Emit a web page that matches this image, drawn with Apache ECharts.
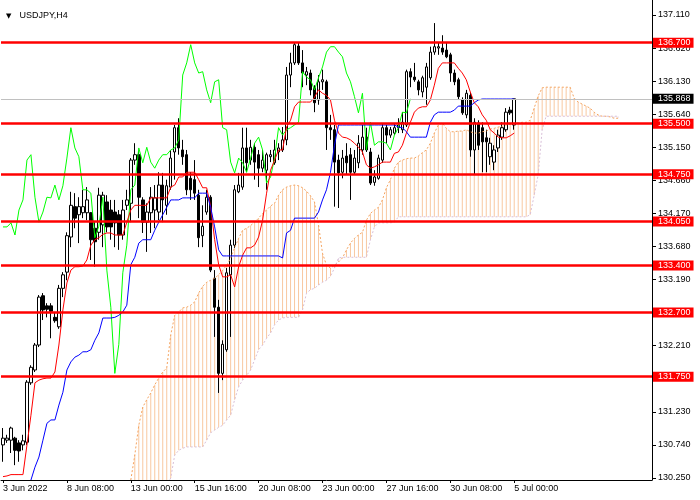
<!DOCTYPE html>
<html><head><meta charset="utf-8">
<script src="https://cdn.jsdelivr.net/npm/echarts@6/dist/echarts.min.js"></script>
<style>html,body{margin:0;padding:0;background:#fff}#c{width:700px;height:500px}</style>
</head><body><div id="c"></div>
<script>
// ---- data ----
const xTickLabels = ["3 Jun 2022","8 Jun 08:00","13 Jun 00:00","15 Jun 16:00","20 Jun 08:00","23 Jun 00:00","27 Jun 16:00","30 Jun 08:00","5 Jul 00:00"];
const barsPerTick = 16;
const yTicks = [137.110,136.620,136.130,135.640,135.150,134.660,134.170,133.680,133.190,132.700,132.210,131.720,131.230,130.740,130.250];
const levels = [136.700,135.500,134.750,134.050,133.400,132.700,131.750];
const lastPrice = 135.868;
const symbolLabel = "USDJPY,H4";

// H4 candles [open, high, low, close]
const candles = [
[130.74,130.99,130.49,130.84],[130.81,130.89,130.77,130.84],[130.81,131.01,130.62,130.99],[130.84,130.86,130.44,130.66],[130.77,130.81,130.49,130.65],
[130.74,130.89,130.66,130.80],[130.78,131.70,130.74,131.67],[131.66,131.92,131.63,131.89],[131.85,132.25,131.82,132.22],[132.22,132.96,132.19,132.93],
[132.95,132.99,132.59,132.74],[132.80,132.84,132.63,132.75],[132.80,132.84,132.32,132.72],[132.63,132.71,132.55,132.58],[132.49,133.11,132.46,133.06],
[133.06,133.30,132.93,133.26],[133.30,133.89,133.18,133.84],[133.82,134.49,133.67,134.29],[134.27,134.47,133.95,134.10],[134.15,134.41,133.73,134.27],
[134.18,134.52,134.10,134.27],[134.18,134.56,134.07,134.37],[134.18,134.19,133.48,133.78],[133.95,134.04,133.38,133.75],[133.89,134.55,133.78,134.44],
[134.00,134.49,133.67,134.44],[134.34,134.44,133.89,133.97],[134.22,134.37,133.78,133.97],[134.19,134.37,133.67,134.03],[134.15,134.22,133.63,133.85],
[133.85,134.37,133.78,134.22],[134.29,134.52,134.22,134.37],[134.32,134.99,134.04,134.96],[134.96,135.21,134.89,135.04],[135.04,135.11,134.10,134.41],
[134.37,134.41,133.88,134.04],[134.04,134.32,133.60,134.19],[134.18,134.56,133.88,134.41],[134.22,134.59,133.95,134.40],[134.19,134.78,134.07,134.59],
[134.59,134.77,134.04,134.37],[134.29,134.67,134.15,134.58],[134.56,135.11,134.52,134.99],[135.08,135.48,134.67,135.44],[135.44,135.58,135.04,135.14],
[135.11,135.26,134.89,135.01],[135.04,135.11,134.44,134.52],[134.69,134.78,134.37,134.52],[134.67,134.96,134.37,134.47],[134.44,134.52,133.67,133.81],
[133.84,134.29,133.67,133.98],[134.19,134.52,134.15,134.41],[134.41,134.44,133.30,133.33],[133.21,133.33,132.34,132.78],[132.78,132.89,131.51,131.80],
[131.80,132.29,131.70,132.23],[132.15,133.36,132.12,133.29],[133.26,133.78,132.34,133.70],[133.70,134.59,133.66,134.52],[134.49,134.77,134.47,134.59],
[134.56,135.44,134.52,135.14],[135.14,135.44,134.78,134.92],[134.96,135.26,134.89,135.15],[135.15,135.21,134.67,134.93],[135.04,135.11,134.56,134.84],
[134.84,135.11,134.78,134.96],[134.81,135.07,134.52,135.04],[135.01,135.11,134.93,135.04],[134.92,135.26,134.89,135.11],[135.08,135.21,134.96,135.14],
[135.11,135.45,135.08,135.26],[135.26,136.34,135.18,136.22],[136.22,136.55,136.04,136.40],[136.40,136.70,136.37,136.67],[136.65,136.70,136.37,136.40],
[136.40,136.59,136.04,136.25],[136.22,136.34,136.07,136.27],[136.25,136.30,135.92,136.00],[136.03,136.07,135.67,135.81],[135.85,136.22,135.78,136.12],
[136.12,136.30,136.00,136.15],[136.12,136.15,135.11,135.44],[135.44,135.63,135.26,135.41],[135.41,135.48,134.27,134.93],[134.96,135.04,134.25,134.77],
[134.78,135.11,134.69,134.99],[135.02,135.21,134.74,134.92],[135.04,135.14,134.37,134.78],[134.78,135.11,134.74,134.99],[134.92,135.33,134.84,135.21],
[135.11,135.48,135.04,135.30],[135.30,135.44,135.08,135.11],[135.08,135.14,134.59,134.62],[134.63,134.81,134.58,134.71],[134.69,135.04,134.67,134.99],
[134.96,135.51,134.92,135.44],[135.44,135.48,135.21,135.33],[135.33,135.45,135.29,135.41],[135.36,135.51,135.33,135.44],[135.44,135.58,135.36,135.48],
[135.41,135.67,135.36,135.52],[135.48,136.30,135.45,136.27],[136.27,136.32,136.04,136.19],[136.19,136.40,136.12,136.15],[136.12,136.15,135.92,136.00],
[135.97,136.21,135.89,136.18],[136.04,136.40,135.78,136.34],[136.18,136.64,136.15,136.56],[136.56,136.99,136.52,136.64],[136.62,136.70,136.52,136.64],
[136.62,136.81,136.52,136.56],[136.59,136.70,136.47,136.49],[136.52,136.55,136.12,136.25],[136.25,136.30,136.07,136.12],[136.15,136.18,135.85,135.90],
[135.85,135.89,135.63,135.66],[135.63,136.00,135.58,135.95],[135.92,135.97,135.01,135.11],[135.11,135.58,134.74,135.52],[135.51,135.55,135.11,135.18],
[135.44,135.52,134.78,135.23],[135.29,135.41,134.78,135.23],[135.01,135.29,134.89,135.21],[134.93,135.18,134.81,135.11],[135.14,135.41,135.08,135.33],
[135.30,135.52,135.26,135.44],[135.41,135.73,135.38,135.67],[135.70,135.75,135.63,135.66],[135.48,135.868,135.41,135.868]
];

// Ichimoku lines (one value per bar)
const tenkan = [
130.27,130.28,130.30,130.30,130.30,130.30,130.74,131.18,131.66,131.70,
131.72,131.73,131.73,131.82,132.22,132.74,133.14,133.33,133.38,133.38,
133.39,133.48,133.70,133.78,133.81,133.86,133.88,133.88,133.85,133.85,
133.85,134.04,134.22,134.29,134.29,134.29,134.29,134.40,134.40,134.40,
134.40,134.40,134.56,134.59,134.71,134.71,134.78,134.78,134.78,134.67,
134.55,134.55,134.27,133.78,133.41,133.23,133.23,133.26,133.08,133.38,
133.55,133.66,133.66,133.70,133.82,134.07,134.47,134.81,134.96,135.11,
135.11,135.45,135.55,135.75,135.82,135.82,135.82,135.82,135.89,136.00,
135.95,135.92,135.85,135.55,135.36,135.30,135.29,135.26,135.21,135.15,
135.08,134.89,134.84,134.86,134.89,134.93,134.93,134.93,135.06,135.08,
135.18,135.36,135.52,135.67,135.73,135.75,135.75,135.85,136.07,136.32,
136.40,136.40,136.40,136.40,136.32,136.25,136.15,135.97,135.81,135.75,
135.63,135.55,135.41,135.36,135.30,135.29,135.29,135.32,135.36
];
const kijun = [
null,null,null,null,null,null,null,130.22,130.41,130.56,
130.81,131.06,131.11,131.11,131.33,131.52,131.85,131.97,132.04,132.07,
132.12,132.12,132.15,132.29,132.40,132.62,132.62,132.62,132.63,132.66,
132.71,132.81,133.41,133.52,133.73,133.78,133.78,133.78,133.92,134.04,
134.15,134.26,134.37,134.37,134.37,134.40,134.40,134.40,134.40,134.47,
134.47,134.47,134.26,133.97,133.63,133.54,133.54,133.54,133.54,133.54,
133.54,133.54,133.54,133.54,133.54,133.54,133.54,133.54,133.54,133.54,
133.51,133.88,133.92,134.10,134.10,134.10,134.10,134.10,134.10,134.19,
134.37,134.52,134.78,135.18,135.48,135.48,135.48,135.48,135.48,135.48,
135.48,135.48,135.48,135.48,135.48,135.48,135.48,135.48,135.48,135.45,
135.44,135.38,135.30,135.30,135.30,135.30,135.30,135.52,135.63,135.67,
135.67,135.67,135.67,135.70,135.76,135.76,135.76,135.76,135.81,135.85,
135.865,135.865,135.865,135.865,135.865,135.865,135.865,135.865,135.865
];
const cloudFirstBar = 32;
const spanA = [
130.22,130.59,131.03,131.30,131.41,131.51,131.63,131.73,131.82,131.88,
132.37,132.66,132.71,132.77,132.78,132.81,132.86,132.99,133.09,133.15,
133.18,133.21,133.26,133.33,133.40,133.51,133.66,133.80,133.92,133.95,
133.99,134.04,134.10,134.17,134.22,134.28,134.32,134.44,134.52,134.56,
134.58,134.59,134.58,134.55,134.50,134.43,134.34,134.00,133.58,133.40,
133.36,133.40,133.45,133.51,133.63,133.73,133.80,133.85,133.89,134.07,
134.17,134.22,134.26,134.37,134.55,134.67,134.84,134.93,134.96,134.98,
134.99,134.99,135.02,135.07,135.11,135.21,135.36,135.48,135.51,135.43,
135.38,135.38,135.39,135.39,135.41,135.38,135.36,135.36,135.38,135.39,
135.42,135.43,135.45,135.46,135.48,135.49,135.51,135.51,135.52,135.52,
135.55,135.73,135.91,136.03,136.04,136.04,136.04,136.04,136.04,136.04,
136.04,135.88,135.82,135.79,135.76,135.73,135.67,135.63,135.61,135.61,
135.60,135.58,135.58
];
const spanB = [
129.48,129.55,129.63,129.70,129.78,129.85,129.92,130.00,130.07,130.13,
130.25,130.59,130.66,130.69,130.71,130.71,130.71,130.71,130.71,130.81,
130.92,130.96,131.00,131.03,131.11,131.18,131.41,131.60,131.70,131.77,
131.85,132.00,132.15,132.22,132.32,132.40,132.52,132.59,132.62,132.63,
132.63,132.63,132.63,132.74,132.99,133.04,133.06,133.11,133.15,133.18,
133.24,133.36,133.51,133.52,133.52,133.52,133.52,133.52,133.52,133.52,
133.78,133.97,134.03,134.03,134.03,134.03,134.04,134.12,134.12,134.12,
134.12,134.12,134.12,134.12,134.12,134.12,134.12,134.12,134.12,134.12,
134.12,134.12,134.12,134.12,134.12,134.12,134.12,134.12,134.12,134.12,
134.12,134.12,134.12,134.12,134.12,134.12,134.12,134.12,134.12,134.12,
134.15,134.44,134.74,135.41,135.61,135.61,135.61,135.61,135.61,135.61,
135.61,135.61,135.61,135.61,135.61,135.61,135.61,135.61,135.61,135.61,
135.61,135.61,135.61
];
const chikouShift = 26;
const slotCount = 163;

// ---- build series ----
const cats = [];
for (let i = 0; i < slotCount; i++) cats.push('b' + i);
const isTick = (i) => i % barsPerTick === 0 && i / barsPerTick < xTickLabels.length;

const candleData = candles.map(c => [c[0], c[3], c[2], c[1]]);
const pad = (arr, offset) => { const out = new Array(slotCount).fill(null); arr.forEach((v, k) => { out[k + offset] = v; }); return out; };
const chikou = new Array(slotCount).fill(null);
for (let i = 0; i + chikouShift < candles.length; i++) chikou[i] = candles[i + chikouShift][3];

const LINE_A = '#f4a460', LINE_B = '#d8bfd8';
// the dotted histogram of the cloud, drawn as thin solid bars in the dotted pattern's average tint
const CLOUD_UP = '#f8c8a0', CLOUD_DN = '#e8d9e8';
const cloudBase = pad(spanA.map((a, k) => Math.min(a, spanB[k])), cloudFirstBar);
const cloudBand = pad(spanA.map((a, k) => ({
  value: Math.abs(a - spanB[k]),
  itemStyle: {color: a >= spanB[k] ? CLOUD_UP : CLOUD_DN}
})), cloudFirstBar);

const chart = echarts.init(document.getElementById('c'), null, {renderer: 'canvas'});
const lblFont = 'Liberation Sans, Arial, sans-serif';
chart.setOption({
  animation: false,
  backgroundColor: '#ffffff',
  title: {
    text: '{t|▼} {s|' + symbolLabel + '}', left: 1, top: 2,
    textStyle: { rich: {
      t: {fontSize: 7, fontFamily: 'DejaVu Sans', color: '#000', padding: [0, 3, 0, 0]},
      s: {fontSize: 9, fontFamily: lblFont, color: '#000', fontWeight: 'normal'}
    }}
  },
  grid: {left: -2, right: 48, top: 0, bottom: 20, containLabel: false},
  xAxis: {
    type: 'category', data: cats, boundaryGap: true,
    axisLine: {show: true, lineStyle: {color: '#000', width: 1}},
    axisTick: {show: true, alignWithLabel: true, interval: (i) => isTick(i), length: 3, lineStyle: {color: '#000'}},
    axisLabel: {interval: (i) => isTick(i), formatter: (v, i) => isTick(i) ? xTickLabels[i / barsPerTick] : '',
      align: 'left', color: '#000', fontSize: 9, fontFamily: lblFont, margin: 4},
    splitLine: {show: false}
  },
  yAxis: {
    type: 'value', position: 'right', min: 130.22, max: 137.332, scale: true,
    axisLine: {show: true, lineStyle: {color: '#000', width: 1}},
    axisTick: {show: true, customValues: yTicks, length: 4, lineStyle: {color: '#000'}},
    axisLabel: {customValues: yTicks, formatter: (v) => v.toFixed(3), color: '#000', fontSize: 9, fontFamily: lblFont, margin: 6},
    splitLine: {show: false}
  },
  series: [
    {type: 'bar', name: 'cloud base', stack: 'cloud', data: cloudBase, z: 0, silent: true, barWidth: 1,
      itemStyle: {color: 'rgba(0,0,0,0)'}, emphasis: {disabled: true}},
    {type: 'bar', name: 'cloud', stack: 'cloud', data: cloudBand, z: 0, silent: true, barWidth: 1,
      itemStyle: {color: CLOUD_UP}, emphasis: {disabled: true}},
    {
      type: 'candlestick', name: 'USDJPY', data: candleData, z: 1, barWidth: 3,
      itemStyle: {color: '#ffffff', color0: '#000000', borderColor: '#000000', borderColor0: '#000000', borderWidth: 1},
      emphasis: {disabled: true}
    },
    {type: 'line', name: 'Senkou A', data: pad(spanA, cloudFirstBar), z: 2, symbol: 'none', silent: true,
      lineStyle: {color: LINE_A, width: 1, type: [2, 2]}},
    {type: 'line', name: 'Senkou B', data: pad(spanB, cloudFirstBar), z: 2, symbol: 'none', silent: true,
      lineStyle: {color: LINE_B, width: 1, type: [2, 2]}},
    {type: 'line', name: 'Chikou', data: chikou, z: 3, symbol: 'none', silent: true,
      lineStyle: {color: '#00ff00', width: 1}},
    {type: 'line', name: 'Tenkan', data: pad(tenkan, 0), z: 3, symbol: 'none', silent: true,
      lineStyle: {color: '#ff0000', width: 1}},
    {type: 'line', name: 'Kijun', data: pad(kijun, 0), z: 3, symbol: 'none', silent: true,
      lineStyle: {color: '#0000ff', width: 1}},
    {
      type: 'line', name: 'levels', data: [], z: 5, silent: true,
      markLine: {
        symbol: 'none', silent: true, animation: false, precision: 3,
        label: {show: true, position: 'end', distance: 1, formatter: (p) => Number(p.value).toFixed(3),
          color: '#ffffff', backgroundColor: '#ff0000', fontSize: 9, fontFamily: lblFont,
          lineHeight: 10, padding: [0, 3, 0, 5]},
        lineStyle: {color: '#ff0000', width: 2.5, type: 'solid'},
        emphasis: {disabled: true},
        data: [{yAxis: lastPrice, lineStyle: {color: '#c0c0c0', width: 1, type: 'solid'},
                label: {backgroundColor: '#000000', color: '#ffffff'}}]
          .concat(levels.map(v => ({yAxis: v})))
      }
    }
  ]
});
</script>
</body></html>
